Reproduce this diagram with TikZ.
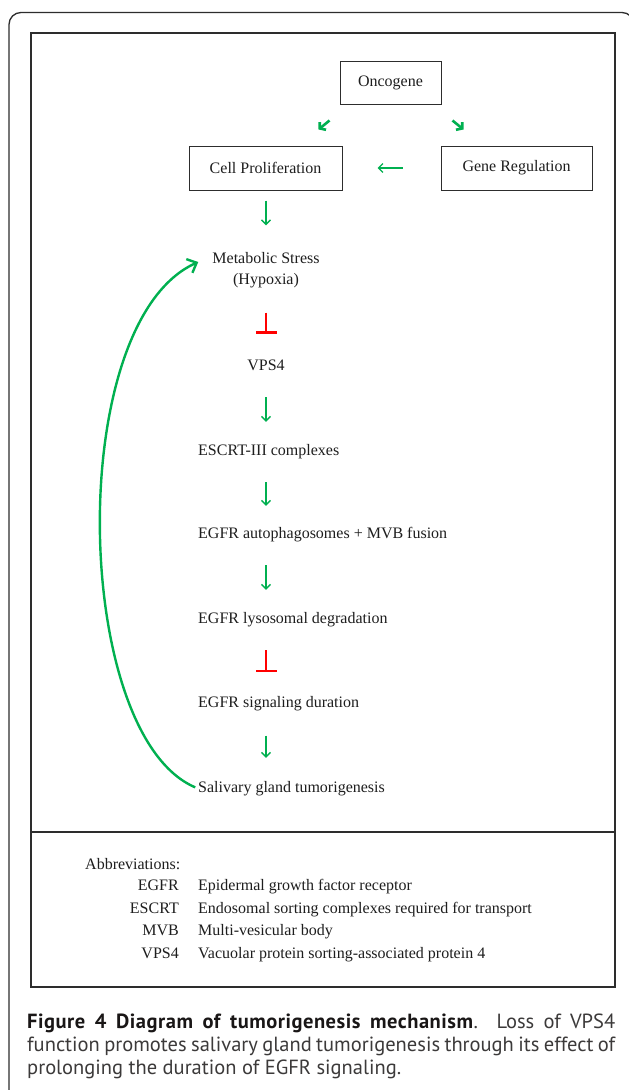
\documentclass[tikz,border=0pt]{standalone}
\usepackage{fontspec}
\setmainfont{Liberation Serif}
\newfontfamily\capfont{PT Sans}
\usetikzlibrary{arrows.meta,calc}
\definecolor{agreen}{RGB}{0,176,80}
\definecolor{ared}{RGB}{255,0,0}
\definecolor{framec}{RGB}{45,45,45}
\definecolor{txtc}{RGB}{30,30,30}
\definecolor{capc}{RGB}{60,58,58}
\definecolor{capb}{RGB}{25,22,22}
\begin{document}
\begin{tikzpicture}[x=1pt,y=-1pt,
  dfont/.style={font=\fontsize{16}{21}\selectfont},
  boxnode/.style={draw=framec, line width=1pt, inner sep=0pt, text=txtc, dfont},
  lbl/.style={inner sep=0pt, text height=11pt, text depth=4pt, text=txtc, dfont},
  garrow/.style={draw=agreen, line width=1.4pt, -{Straight Barb[length=4.5pt,width=9pt]}},
  darrow/.style={draw=agreen, line width=2.6pt, -{Straight Barb[length=4pt,width=10pt]}},
  rbar/.style={draw=ared, line width=2.2pt, -{Bar[width=21pt,line width=2.8pt]}},
  loopa/.style={draw=agreen, line width=2.4pt, -{Straight Barb[length=8pt,width=15pt]}},
  abbrkey/.style={inner sep=0pt, anchor=base east, text=txtc, dfont},
  abbrval/.style={inner sep=0pt, anchor=base west, text=txtc, dfont}
]
\useasboundingbox (0,0) rectangle (629,1090);
\fill[white] (0,0) rectangle (629,1090);
\begin{scope}
\clip (0,0) rectangle (629,1090);
\draw[framec, line width=1.3pt, rounded corners=12pt] (9,1100) -- (9,12.5) -- (634,12.5) -- (634,1100);
\end{scope}
% panels
\draw[framec, line width=1.5pt] (31,33) rectangle (615,987);
\draw[framec, line width=1.5pt] (31,832) -- (615,832);

% boxes
\node[boxnode, minimum width=101pt, minimum height=43pt] (onc) at (390.5,82.5) {Oncogene};
\node[boxnode, minimum width=153pt, minimum height=44pt] (cp) at (265.5,168) {Cell Proliferation};
\node[boxnode, minimum width=151pt, minimum height=44pt] (gr) at (516.5,168) {Gene Regulation};

% column of text
\coordinate (colx) at (266,0);
\node[inner sep=0pt, align=center, text=txtc, font=\fontsize{16}{20.5}\selectfont] (ms) at (266,270) {Metabolic Stress\\(Hypoxia)};
\node[lbl, anchor=base] (vps) at (266,370) {VPS4};
\node[lbl, anchor=base west] (esc) at (198,455) {ESCRT-III complexes};
\node[lbl, anchor=base west] (egf) at (198,538) {EGFR autophagosomes + MVB fusion};
\node[lbl, anchor=base west] (lys) at (198,623) {EGFR lysosomal degradation};
\node[lbl, anchor=base west] (sig) at (198,707.5) {EGFR signaling duration};
\node[lbl, anchor=base west] (sal) at (198,792) {Salivary gland tumorigenesis};

% top arrows
\draw[darrow] ($(onc.south west)+(-10,16)$) -- ($(cp.north east)+(-24,-16)$);
\draw[darrow] ($(onc.south east)+(11,16)$) -- ($(gr.north west)+(23,-16)$);
\draw[garrow, shorten <=38pt, shorten >=35pt] (gr.west) -- (cp.east);

% column arrows
\draw[garrow, shorten <=10pt, shorten >=27pt] (cp.south -| colx) -- (ms.north -| colx);
\draw[rbar, shorten <=25pt, shorten >=25pt] (ms.south -| colx) -- (vps.north -| colx);
\draw[garrow, shorten <=23pt, shorten >=22pt] (vps.south -| colx) -- (esc.north -| colx);
\draw[garrow, shorten <=23pt, shorten >=21pt] (esc.south -| colx) -- (egf.north -| colx);
\draw[garrow, shorten <=23pt, shorten >=22pt] (egf.south -| colx) -- (lys.north -| colx);
\draw[rbar, shorten <=23pt, shorten >=24pt] (lys.south -| colx) -- (sig.north -| colx);
\draw[garrow, shorten <=24pt, shorten >=23pt] (sig.south -| colx) -- (sal.north -| colx);

% feedback loop
\draw[loopa, shorten <=3pt] (sal.west) .. controls (72,735) and (64,322) .. ($(ms.west)+(-14,-8)$);

% abbreviations
\node[inner sep=0pt, anchor=base west, text=txtc, dfont] (abt) at (85,869) {Abbreviations:};
\node[abbrkey] (k1) at (179,890) {EGFR};
\node[abbrval] (v1) at (198,890) {Epidermal growth factor receptor};
\node[abbrkey] (k2) at (179,913) {ESCRT};
\node[abbrval] (v2) at (198,913) {Endosomal sorting complexes required for transport};
\node[abbrkey] (k3) at (179,935.5) {MVB};
\node[abbrval] (v3) at (198,935.5) {Multi-vesicular body};
\node[abbrkey] (k4) at (179,958) {VPS4};
\node[abbrval] (v4) at (198,958) {Vacuolar protein sorting-associated protein 4};

% caption
\node[inner sep=0pt, anchor=base west, text width=588pt, align=justify, text=capc,
  font=\capfont\fontsize{20.5}{23}\selectfont] (cap) at (27,1028)
  {\textcolor{capb}{\addfontfeature{LetterSpace=2.5}\textbf{Figure 4 Diagram of tumorigenesis mechanism}}. Loss of VPS4\linebreak
   function promotes salivary gland tumorigenesis through its effect of\linebreak
   prolonging the duration of EGFR signaling.};
\end{tikzpicture}
\end{document}
